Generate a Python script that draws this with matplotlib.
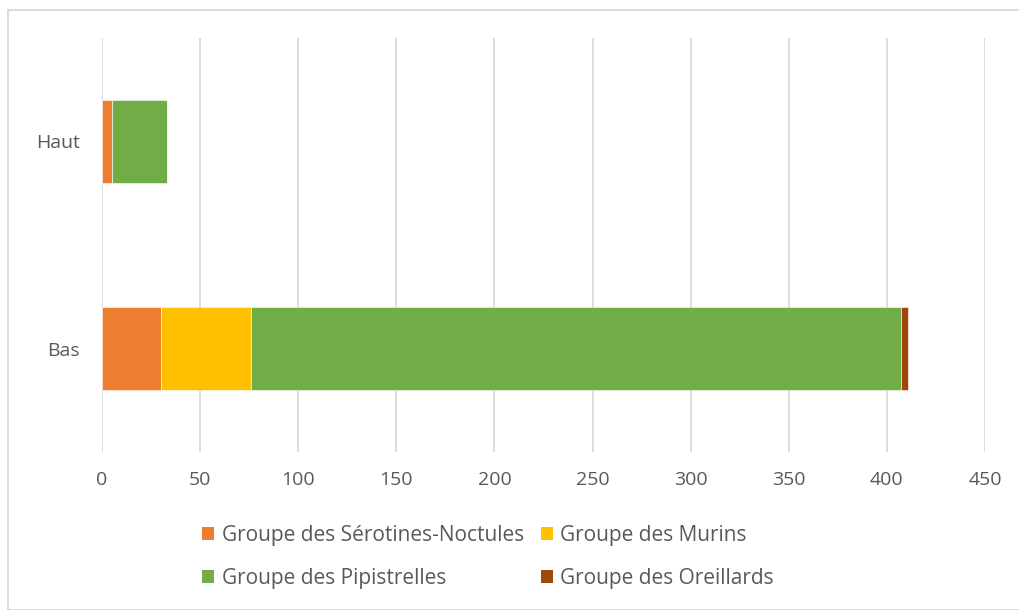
import matplotlib
matplotlib.use("Agg")
import matplotlib.pyplot as plt
from matplotlib.patches import Rectangle, Patch
import numpy as np

plt.rcParams['font.family'] = ['Open Sans', 'DejaVu Sans']

categories = ["Bas", "Haut"]
series_names = [
    "Groupe des Sérotines-Noctules",
    "Groupe des Murins",
    "Groupe des Pipistrelles",
    "Groupe des Oreillards",
]
serotines = [30, 5]
murins = [46, 0]
pipistrelles = [331, 28]
oreillards = [4, 0]
xticks = [0, 50, 100, 150, 200, 250, 300, 350, 400, 450]

colors = ["#ED7D31", "#FFC000", "#70AD47", "#9E480E"]
text_color = "#595959"
fs = 14

W, H = 1020, 610
fig = plt.figure(figsize=(W / 100, H / 100), dpi=100)
ax = fig.add_axes([102 / W, 1 - 452 / H, (985 - 102) / W, (452 - 38) / H])

y = np.arange(len(categories))
left = np.zeros(len(categories))
handles = []
for name, vals, c in zip(series_names, [serotines, murins, pipistrelles, oreillards], colors):
    ax.barh(y, vals, left=left, height=0.4, color=c, edgecolor="white",
            linewidth=0.4, zorder=3)
    left += np.array(vals)
    handles.append(Patch(facecolor=c, edgecolor="none"))

ax.set_xlim(0, 450)
ax.set_ylim(-0.5, 1.5)
ax.set_xticks(xticks)
ax.set_xticklabels([str(t) for t in xticks])
ax.set_yticks(y)
ax.set_yticklabels(categories)
ax.tick_params(axis="both", length=0, labelsize=fs, colors=text_color)
ax.tick_params(axis="x", pad=14)
ax.tick_params(axis="y", pad=16)
ax.xaxis.grid(True, color="#D9D9D9", linewidth=1.3, zorder=0)
ax.set_axisbelow(True)
for s in ax.spines.values():
    s.set_visible(False)

# Legend arranged row by row: Sérotines, Murins / Pipistrelles, Oreillards
order = [0, 2, 1, 3]
leg = fig.legend([handles[i] for i in order], [series_names[i] for i in order],
                 ncol=2, loc="center", bbox_to_anchor=(488 / W, 1 - 557 / H),
                 frameon=False, fontsize=15, labelcolor=text_color,
                 handlelength=0.6, handleheight=0.6, handletextpad=0.35,
                 columnspacing=0.8, labelspacing=1.06)

# Outer chart frame
fig.patches.append(Rectangle((8 / W, 0), 1, 1 - 10 / H, transform=fig.transFigure,
                             fill=False, edgecolor="#D9D9D9", linewidth=1.3))

fig.savefig("out.png", dpi=100)
